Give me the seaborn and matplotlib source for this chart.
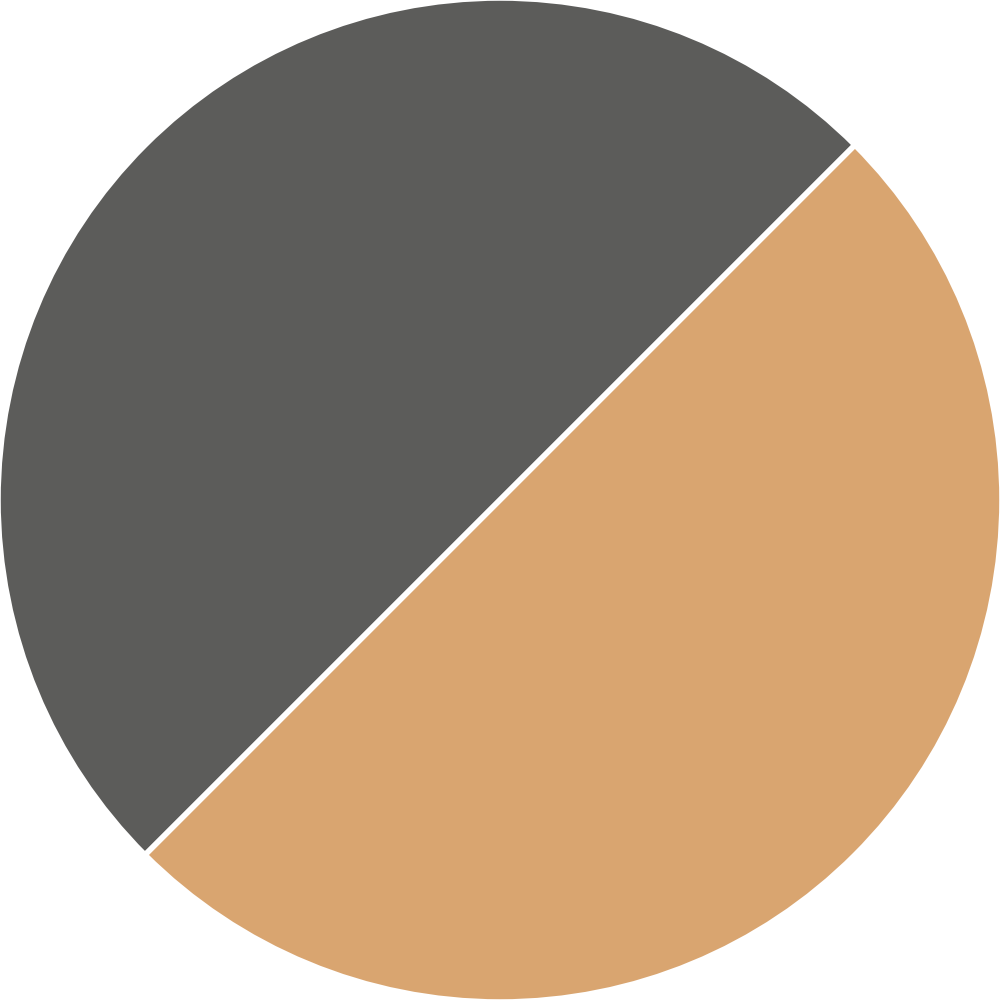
import matplotlib
matplotlib.use('Agg')
import matplotlib.pyplot as plt
import seaborn as sns

labels = ['A', 'B']
values = [50, 50]
colors = ['#5c5c5a', '#d9a570']

sns.set_theme(style='white')

fig = plt.figure(figsize=(10, 10), dpi=100)
ax = fig.add_axes([0, 0, 1, 1])
ax.pie(values, colors=colors, startangle=45, counterclock=True, radius=1.004,
       wedgeprops={'edgecolor': 'white', 'linewidth': 4})
ax.set_aspect('equal')
ax.set_xlim(-1.0, 1.0)
ax.set_ylim(-1.0, 1.0)
ax.axis('off')

fig.savefig('out.png', dpi=100, facecolor='white')
